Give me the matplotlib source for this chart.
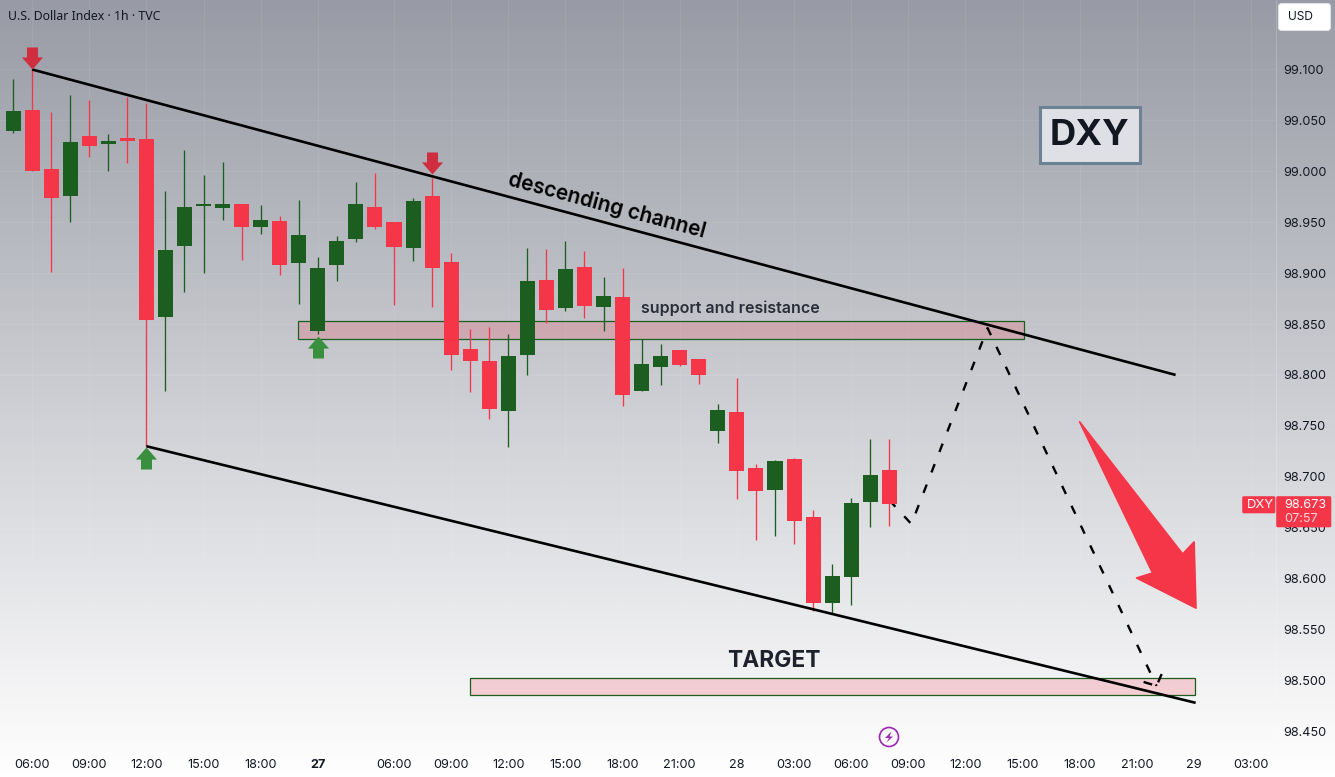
import numpy as np
import matplotlib
matplotlib.use("Agg")
import matplotlib.pyplot as plt
from matplotlib.patches import Circle, FancyBboxPatch, Polygon, Rectangle
from matplotlib.path import Path

plt.rcParams['font.family'] = ['Inter', 'DejaVu Sans']

# Hourly candles, oldest first
opens = [99.040, 99.060, 99.002, 98.976, 99.035, 99.027, 99.033, 99.032, 98.857, 98.927,
         98.966, 98.964, 98.968, 98.945, 98.951, 98.910, 98.843, 98.908, 98.933, 98.965,
         98.950, 98.925, 98.976, 98.911, 98.825, 98.814, 98.765, 98.820, 98.893, 98.866,
         98.906, 98.867, 98.877, 98.784, 98.808, 98.824, 98.816, 98.745, 98.764, 98.709,
         98.687, 98.717, 98.660, 98.576, 98.602, 98.675, 98.707]
highs = [99.091, 99.100, 99.058, 99.075, 99.070, 99.037, 99.073, 99.067, 98.981, 99.021,
         98.996, 99.009, 98.968, 98.967, 98.956, 98.972, 98.916, 98.936, 98.989, 98.998,
         98.950, 98.974, 98.993, 98.920, 98.845, 98.847, 98.840, 98.925, 98.924, 98.932,
         98.922, 98.896, 98.905, 98.835, 98.830, 98.824, 98.816, 98.771, 98.797, 98.713,
         98.716, 98.718, 98.667, 98.614, 98.679, 98.737, 98.737]
lows = [99.038, 99.000, 98.901, 98.950, 99.014, 99.000, 99.008, 98.730, 98.784, 98.881,
        98.900, 98.952, 98.913, 98.938, 98.898, 98.870, 98.840, 98.892, 98.931, 98.943,
        98.869, 98.912, 98.867, 98.805, 98.783, 98.757, 98.729, 98.800, 98.851, 98.863,
        98.856, 98.843, 98.769, 98.784, 98.790, 98.809, 98.791, 98.733, 98.678, 98.638,
        98.642, 98.634, 98.568, 98.565, 98.574, 98.651, 98.652]
closes = [99.059, 99.000, 98.974, 99.029, 99.025, 99.030, 99.030, 98.854, 98.923, 98.965,
          98.968, 98.968, 98.945, 98.952, 98.908, 98.937, 98.905, 98.932, 98.968, 98.945,
          98.926, 98.971, 98.905, 98.820, 98.814, 98.767, 98.819, 98.892, 98.864, 98.904,
          98.868, 98.878, 98.780, 98.811, 98.819, 98.810, 98.800, 98.766, 98.706, 98.686,
          98.715, 98.657, 98.576, 98.603, 98.674, 98.702, 98.673]
last_price = closes[-1]

price_ticks = [98.45, 98.50, 98.55, 98.60, 98.65, 98.70, 98.75, 98.80, 98.85, 98.90,
               98.95, 99.00, 99.05, 99.10]
time_pos = [1, 4, 7, 10, 13, 16, 20, 23, 26, 29, 32, 35, 38, 41, 44, 47, 50, 53, 56, 59, 62, 65]
time_labels = ['06:00', '09:00', '12:00', '15:00', '18:00', '27', '06:00', '09:00', '12:00',
               '15:00', '18:00', '21:00', '28', '03:00', '06:00', '09:00', '12:00', '15:00',
               '18:00', '21:00', '29', '03:00']

# Drawings on the chart, x in bars, y in price
upper_x, upper_y = [1, 61.03], [99.100, 98.800]
lower_x, lower_y = [7, 62.08], [98.730, 98.478]
path_x = [46.0, 47.16, 51.16, 60.03]
path_y = [98.677, 98.6536, 98.846, 98.4946]
wing_x = [59.35, 60.03, 60.30]
wing_y = [98.4985, 98.4946, 98.5063]
resist_zone = (14.97, 53.05, 98.835, 98.853)
target_zone = (24.0, 62.03, 98.486, 98.502)
down_x, down_y = [1, 22], [99.100, 98.997]
up_x, up_y = [7, 16], [98.729, 98.838]
big_arrow_x = [55.99, 61.40, 62.0, 62.1, 58.98, 59.82]
big_arrow_y = [98.754, 98.6242, 98.636, 98.571, 98.6006, 98.6055]

RED = '#f53649'
GREEN = '#1b5e20'
INK = '#131722'

fig = plt.figure(figsize=(13.35, 7.77), dpi=100)

# full-height grey to white backdrop
bg = fig.add_axes([0, 0, 1, 1], zorder=0)
shade = np.linspace(0, 1, 256)[:, None, None]
top_col = np.array([152, 155, 165]) / 255
bg.imshow(top_col + (1 - top_col) * shade, aspect='auto', extent=[0, 1, 0, 1])
bg.axis('off')

ax = fig.add_axes([0, 1 - 752 / 777, 1276 / 1335, 752 / 777], zorder=1)
ax.patch.set_visible(False)
ax.set_xlim(-0.683, 66.30)
ax.set_ylim(98.4297, 99.1682)
for side in ['top', 'left', 'bottom']:
    ax.spines[side].set_visible(False)
ax.spines['right'].set_color((1, 1, 1, 0.2))
ax.spines['right'].set_linewidth(0.72)

ax.yaxis.tick_right()
ax.set_yticks(price_ticks)
ax.set_yticklabels([f'{p:.3f}' for p in price_ticks], fontsize=9.1, color=INK)
ax.set_xticks(time_pos)
ax.set_xticklabels(time_labels, fontsize=9.1, color=INK)
ax.tick_params(axis='y', length=0, pad=5.5)
ax.tick_params(axis='x', length=0, pad=4.8)
ax.get_xticklabels()[5].set_fontweight('bold')
ax.grid(True, color='white', alpha=0.07, lw=0.72)
ax.set_axisbelow(True)

# zones sit under the candles
for x0, x1, y0, y1 in [resist_zone, target_zone]:
    ax.add_patch(Rectangle((x0, y0), x1 - x0, y1 - y0, facecolor=(0.96, 0.21, 0.29, 0.2),
                           edgecolor='none', zorder=2))
    ax.add_patch(Rectangle((x0, y0), x1 - x0, y1 - y0, fill=False, edgecolor=GREEN,
                           lw=0.9, zorder=2))

# candles
idx = np.arange(len(opens))
o, h, l, c = map(np.array, (opens, highs, lows, closes))
cols = [GREEN if b > a else RED for a, b in zip(o, c)]
ax.vlines(idx, l, h, colors=cols, lw=0.95, zorder=3)
ax.bar(idx, np.abs(c - o), bottom=np.minimum(o, c), width=0.788, color=cols, linewidth=0, zorder=4)

ax.plot(upper_x, upper_y, color='black', lw=1.9, zorder=5, solid_capstyle='butt')
ax.plot(lower_x, lower_y, color='black', lw=1.9, zorder=5, solid_capstyle='butt')
ax.plot(path_x, path_y, color='black', lw=1.7, ls=(0, (3.8, 5.5)), zorder=3.5)
ax.plot(wing_x, wing_y, color='black', lw=1.7, ls=(0, (3.8, 3.6)), zorder=3.5)

# signal arrows, tip at the origin of the marker
down_arrow = Path([(0, 0), (-0.48, 0.55), (-0.25, 0.55), (-0.25, 1), (0.25, 1), (0.25, 0.55),
                   (0.48, 0.55), (0, 0)], closed=True)
up_arrow = Path([(0, 0), (-0.48, -0.55), (-0.25, -0.55), (-0.25, -1), (0.25, -1), (0.25, -0.55),
                 (0.48, -0.55), (0, 0)], closed=True)
ax.plot(down_x, down_y, ls='none', marker=down_arrow, ms=31.7, mfc='#cf2e41', mew=0, zorder=6)
ax.plot(up_x, up_y, ls='none', marker=up_arrow, ms=31.7, mfc='#3a8f3e', mew=0, zorder=6)

ax.add_patch(Polygon(np.column_stack([big_arrow_x, big_arrow_y]), closed=True, facecolor=RED,
                     edgecolor=RED, lw=1.2, joinstyle='round', zorder=6))

ax.text(31.2, 98.967, 'descending channel', fontsize=15, fontweight='semibold', color='black',
        rotation=-15, rotation_mode='anchor', ha='center', va='center', zorder=7)
ax.text(32.98, 98.865, 'support and resistance', fontsize=11.5, fontweight='semibold',
        color='#2a2e39', va='center', zorder=7)
ax.text(39.95, 98.519, 'TARGET', fontsize=16.4, fontweight='bold', color='#1e222d',
        ha='center', va='center', zorder=7)

# overlay in pixel units for the interface bits
ui = fig.add_axes([0, 0, 1, 1], zorder=2)
ui.set_xlim(0, 1335)
ui.set_ylim(777, 0)
ui.axis('off')

ui.text(8, 16.5, 'U.S. Dollar Index · 1h · TVC', fontsize=8.9, fontweight='medium',
        family=['Noto Sans', 'DejaVu Sans'], color=INK, va='center')

ui.add_patch(Rectangle((1040, 107), 99.5, 55.5, facecolor='#dfe0e5', edgecolor='#6b8294', lw=2.2))
ui.text(1089.5, 135.5, 'DXY', fontsize=26.2, fontweight='bold', color=INK, ha='center', va='center')

ui.add_patch(FancyBboxPatch((1280, 5), 49, 24, boxstyle='round,pad=1.5,rounding_size=3',
                            facecolor='white', edgecolor='#dfe1e6', lw=0.8))
ui.text(1288, 16.5, 'USD', fontsize=8.6, color=INK, va='center')

ui.add_patch(FancyBboxPatch((1243, 497), 31.5, 15.5, boxstyle='round,pad=0.8,rounding_size=1.5',
                            facecolor=RED, edgecolor='none'))
ui.add_patch(FancyBboxPatch((1277, 497), 53.5, 29.5, boxstyle='round,pad=0.8,rounding_size=1.5',
                            facecolor=RED, edgecolor='none'))
ui.text(1247, 505, 'DXY', fontsize=9.4, color='white', va='center')
ui.text(1284, 505, f'{last_price:.3f}', fontsize=9.1, color='white', va='center')
ui.text(1284, 519, '07:57', fontsize=9.1, color='#fcd5da', va='center')

# lightning badge above the time axis
ui.add_patch(Circle((889, 737), 9.5, facecolor='none', edgecolor='#9c27b0', lw=1.2))
ui.add_patch(Polygon([(891.5, 731.5), (885, 738), (889, 738), (886.5, 742.5), (893, 736.5),
                      (889.5, 736.5)], closed=True, facecolor='#9c27b0', edgecolor='none'))

fig.savefig('out.png', dpi=100)
